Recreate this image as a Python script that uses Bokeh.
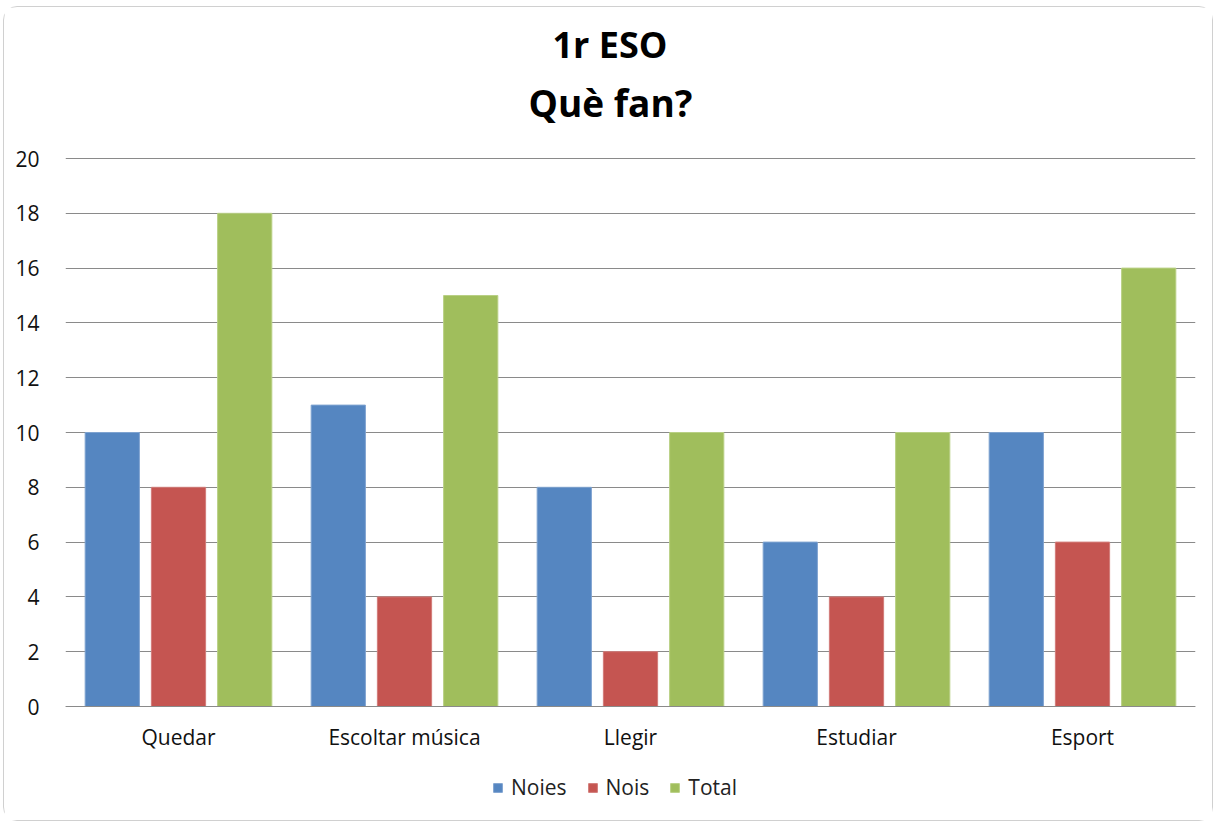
from bokeh.plotting import figure
from bokeh.models import FactorRange, Range1d, Legend, LegendItem, Title, ColumnDataSource, FixedTicker
from bokeh.transform import dodge
from bokeh.embed import file_html
from bokeh.resources import INLINE

# ---- data ----
categories = ["Quedar", "Escoltar música", "Llegir", "Estudiar", "Esport"]
noies = [10, 11, 8, 6, 10]
nois = [8, 4, 2, 4, 6]
total = [18, 15, 10, 10, 16]
series_names = ["Noies", "Nois", "Total"]
y_ticks = [0, 2, 4, 6, 8, 10, 12, 14, 16, 18, 20]
title_line1 = "1r ESO"
title_line2 = "Què fan?"

colors = ["#5586C1", "#C55551", "#A0BE5C"]
edge_colors = ["#7FA3D0", "#D27C79", "#B9D085"]
FONT = "Open Sans"

# ---- layout geometry (pixels on the page) ----
CANVAS_TOP = 7          # page y of canvas top (margin + border)
FRAME_TOP = 130         # page y of frame top
FRAME_BOTTOM = 815      # page y of frame bottom
Y20_PX = 158            # page y where value 20 sits
Y0_PX = 706             # page y where value 0 sits
px_per_unit = (Y0_PX - Y20_PX) / 20.0
y_top = (Y0_PX - FRAME_TOP) / px_per_unit
y_bot = (Y0_PX - FRAME_BOTTOM) / px_per_unit

source = ColumnDataSource(dict(cat=categories, Noies=noies, Nois=nois, Total=total))

p = figure(
    x_range=FactorRange(factors=categories, range_padding=0),
    y_range=Range1d(y_bot, y_top),
    frame_width=1130, frame_height=FRAME_BOTTOM - FRAME_TOP,
    output_backend="svg", toolbar_location=None,
    min_border_left=61, min_border_right=17,
    min_border_top=FRAME_TOP - CANVAS_TOP, min_border_bottom=5,
)

p.styles = {"border": "1px solid #D0D0D0", "border-radius": "14px",
            "margin-left": "3px", "margin-top": "6px"}

# far title (top line)
p.title.text = title_line1
p.title.align = "left"
p.title.offset = 487
p.title.standoff = 5
p.title.text_font = FONT
p.title.text_font_size = "36px"
p.title.text_font_style = "bold"
p.title.text_color = "#000000"
# near title (second line)
p.add_layout(Title(text=title_line2, align="left", offset=463, standoff=6,
                   text_font=FONT, text_font_size="37px",
                   text_font_style="bold", text_color="#000000"), "above")

offsets = [-0.293, 0.0, 0.293]
renderers = []
for name, off, c, ec in zip(series_names, offsets, colors, edge_colors):
    r = p.vbar(x=dodge("cat", off, range=p.x_range), top=name, width=0.24, source=source,
               fill_color=c, line_color=ec, line_width=1)
    renderers.append(r)

legend = Legend(items=[LegendItem(label=n, renderers=[r]) for n, r in zip(series_names, renderers)],
                orientation="horizontal", location=(427, 14),
                border_line_color=None, background_fill_alpha=0,
                padding=0, margin=0,
                glyph_width=11, glyph_height=11, label_standoff=8, spacing=20,
                label_text_font=FONT, label_text_font_size="21px", label_text_color="#222222")
p.add_layout(legend)

p.yaxis.ticker = FixedTicker(ticks=y_ticks)
p.yaxis.axis_line_color = None
p.yaxis.major_tick_line_color = None
p.yaxis.minor_tick_line_color = None
p.yaxis.major_label_standoff = 20
p.yaxis.major_label_text_font = FONT
p.yaxis.major_label_text_font_size = "21px"
p.yaxis.major_label_text_color = "#111111"

p.xaxis.fixed_location = 0
p.xaxis.axis_line_color = "#8A8A8A"
p.xaxis.major_tick_line_color = None
p.xaxis.minor_tick_line_color = None
p.xaxis.major_label_standoff = 10
p.xaxis.major_label_text_font = FONT
p.xaxis.major_label_text_font_size = "21px"
p.xaxis.major_label_text_color = "#111111"

p.xgrid.grid_line_color = None
p.ygrid.grid_line_color = "#8A8A8A"
p.ygrid.grid_line_width = 1
p.outline_line_color = None

open("out.html", "w").write(file_html(p, INLINE))
